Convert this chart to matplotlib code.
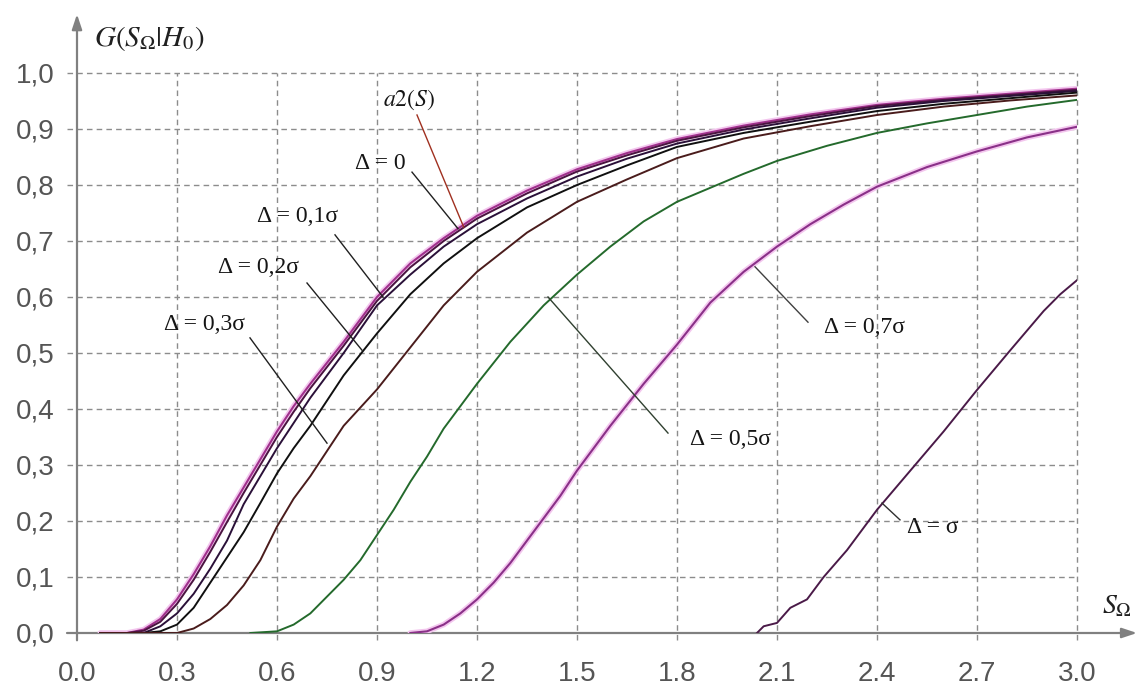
import numpy as np
import matplotlib
matplotlib.use("Agg")
import matplotlib.pyplot as plt

plt.rcParams['mathtext.fontset'] = 'stix'

# --- data ---
x_a2 = [0.07, 0.15, 0.2, 0.25, 0.3, 0.35, 0.4, 0.45, 0.5, 0.55, 0.6, 0.65, 0.7, 0.8, 0.9,
        1.0, 1.1, 1.2, 1.35, 1.5, 1.65, 1.8, 2.0, 2.2, 2.4, 2.6, 2.8, 3.0]
y_a2 = [0, 0, 0.006, 0.025, 0.06, 0.105, 0.155, 0.21, 0.26, 0.31, 0.36, 0.405, 0.445, 0.52, 0.6,
        0.66, 0.705, 0.745, 0.79, 0.828, 0.857, 0.882, 0.906, 0.926, 0.943, 0.954, 0.963, 0.972]
y_d0 = [0, 0, 0.004, 0.02, 0.052, 0.095, 0.145, 0.198, 0.25, 0.30, 0.35, 0.395, 0.437, 0.513, 0.593,
        0.653, 0.70, 0.74, 0.785, 0.824, 0.853, 0.879, 0.903, 0.923, 0.941, 0.952, 0.961, 0.970]
y_d01 = [0, 0, 0.0, 0.012, 0.035, 0.07, 0.115, 0.165, 0.23, 0.28, 0.33, 0.375, 0.42, 0.50, 0.585,
         0.64, 0.69, 0.73, 0.776, 0.815, 0.847, 0.874, 0.899, 0.919, 0.938, 0.950, 0.959, 0.968]
y_d02 = [0, 0, 0, 0.003, 0.015, 0.045, 0.09, 0.135, 0.18, 0.232, 0.285, 0.33, 0.37, 0.46, 0.535,
         0.605, 0.66, 0.705, 0.76, 0.80, 0.835, 0.868, 0.893, 0.913, 0.932, 0.945, 0.955, 0.965]
y_d03 = [0, 0, 0, 0, 0, 0.008, 0.025, 0.05, 0.085, 0.13, 0.19, 0.24, 0.28, 0.37, 0.435,
         0.51, 0.585, 0.645, 0.715, 0.77, 0.81, 0.848, 0.883, 0.905, 0.925, 0.94, 0.951, 0.96]

x_d05 = [0.52, 0.6, 0.65, 0.7, 0.75, 0.8, 0.85, 0.9, 0.95, 1.0, 1.05, 1.1, 1.15, 1.2, 1.3, 1.4,
         1.5, 1.6, 1.7, 1.8, 1.9, 2.0, 2.1, 2.25, 2.4, 2.55, 2.7, 2.85, 3.0]
y_d05 = [0, 0.003, 0.015, 0.035, 0.065, 0.095, 0.13, 0.175, 0.22, 0.27, 0.315, 0.365, 0.405, 0.445,
         0.52, 0.585, 0.64, 0.69, 0.735, 0.77, 0.795, 0.82, 0.843, 0.87, 0.893, 0.91, 0.925, 0.94, 0.952]

x_d07 = [1.0, 1.05, 1.1, 1.15, 1.2, 1.25, 1.3, 1.35, 1.4, 1.45, 1.5, 1.55, 1.6, 1.7, 1.8, 1.9,
         2.0, 2.1, 2.2, 2.3, 2.4, 2.55, 2.7, 2.85, 3.0]
y_d07 = [0, 0.003, 0.015, 0.035, 0.06, 0.09, 0.125, 0.165, 0.205, 0.245, 0.29, 0.33, 0.37, 0.445,
         0.515, 0.59, 0.645, 0.69, 0.73, 0.765, 0.797, 0.832, 0.86, 0.885, 0.904]

x_d1 = [2.04, 2.06, 2.1, 2.14, 2.19, 2.24, 2.31, 2.4, 2.5, 2.6, 2.7, 2.8, 2.9, 2.95, 3.0]
y_d1 = [0, 0.012, 0.018, 0.045, 0.06, 0.1, 0.148, 0.22, 0.29, 0.36, 0.434, 0.505, 0.575, 0.605, 0.63]

xticks = [0.0, 0.3, 0.6, 0.9, 1.2, 1.5, 1.8, 2.1, 2.4, 2.7, 3.0]
xlabels = ['0.0', '0.3', '0.6', '0.9', '1.2', '1.5', '1.8', '2.1', '2.4', '2.7', '3.0']
yticks = [0.0, 0.1, 0.2, 0.3, 0.4, 0.5, 0.6, 0.7, 0.8, 0.9, 1.0]
ylabels = ['0,0', '0,1', '0,2', '0,3', '0,4', '0,5', '0,6', '0,7', '0,8', '0,9', '1,0']

# (text, text pos, leader start, leader end on curve)
labels = [
    ('$a2(S)$', (0.995, 0.952), (1.02, 0.925), (1.16, 0.725)),
    ('Δ = 0', (0.909, 0.839), (1.005, 0.823), (1.143, 0.722)),
    ('Δ = 0,1σ', (0.663, 0.743), (0.774, 0.711), (0.918, 0.6)),
    ('Δ = 0,2σ', (0.543, 0.652), (0.69, 0.625), (0.855, 0.505)),
    ('Δ = 0,3σ', (0.381, 0.55), (0.519, 0.527), (0.75, 0.339)),
    ('Δ = 0,5σ', (1.962, 0.345), (1.773, 0.357), (1.413, 0.6)),
    ('Δ = 0,7σ', (2.361, 0.546), (2.193, 0.555), (2.034, 0.654)),
    ('Δ = σ', (2.568, 0.189), (2.469, 0.202), (2.415, 0.232)),
]
leader_colors = ['#a03020', '#202020', '#202020', '#202020', '#202020', '#304030', '#404040', '#303030']

fig = plt.figure(figsize=(11.4, 6.89), dpi=100)
ax = fig.add_axes([77 / 1140, 56 / 689, 1000 / 1140, 560 / 689])
ax.set_xlim(0, 3)
ax.set_ylim(0, 1)
for s in ax.spines.values():
    s.set_visible(False)

grid_kw = dict(colors='#8c8c8c', linestyles=(0, (4, 3)), linewidth=1.0, clip_on=False, zorder=1)
ax.vlines(xticks[1:], -0.013, 1.0, **grid_kw)
ax.hlines(yticks[1:], -0.03, 3.0, **grid_kw)

ax.set_xticks(xticks, xlabels)
ax.set_yticks(yticks, ylabels)
ax.tick_params(length=0, labelsize=20, labelcolor='#555555')
ax.tick_params(axis='x', pad=20)
ax.tick_params(axis='y', pad=16)
for t in ax.get_xticklabels() + ax.get_yticklabels():
    t.set_family('Liberation Sans')

# axes with arrows
arr = dict(arrowstyle='-|>,head_length=0.9,head_width=0.3', color='#808080', lw=1.6,
           shrinkA=0, shrinkB=0)
ax.annotate('', xy=(3.18, 0), xytext=(-0.03, 0), arrowprops=arr, annotation_clip=False, zorder=2)
ax.annotate('', xy=(0, 1.105), xytext=(0, -0.013), arrowprops=arr, annotation_clip=False, zorder=2)

ax.text(0.05, 1.062, r'$G(S_{\Omega}|H_0)$', fontsize=21, ha='left', va='center', color='#202020')
ax.text(3.12, 0.05, r'$S_{\Omega}$', fontsize=20, ha='center', va='center', color='#202020',
        clip_on=False)

# curves
halo = dict(color='#f3c6ee', lw=4, solid_capstyle='round', zorder=3)
ax.plot(x_a2, y_a2, **halo)
ax.plot(x_d07, y_d07, **halo)
ax.plot(x_a2, y_a2, color='#a0308c', lw=1.5, zorder=4)
ax.plot(x_a2, y_d0, color='#4a1440', lw=1.4, zorder=4)
ax.plot(x_a2, y_d01, color='#2a1038', lw=1.4, zorder=4)
ax.plot(x_a2, y_d02, color='#101010', lw=1.4, zorder=4)
ax.plot(x_a2, y_d03, color='#4a1c1c', lw=1.4, zorder=4)
ax.plot(x_d05, y_d05, color='#246a2c', lw=1.4, zorder=4)
ax.plot(x_d07, y_d07, color='#8a3088', lw=1.5, zorder=4)
ax.plot(x_d1, y_d1, color='#4a1a48', lw=1.4, zorder=4)

for (txt, tp, p0, p1), lc in zip(labels, leader_colors):
    ax.plot([p0[0], p1[0]], [p0[1], p1[1]], color=lc, lw=1.0, zorder=5)
    ax.text(tp[0], tp[1], txt, fontsize=17, ha='center', va='center',
            family=['Liberation Serif', 'DejaVu Serif'], color='#151515', zorder=6)

fig.savefig('out.png', dpi=100)
